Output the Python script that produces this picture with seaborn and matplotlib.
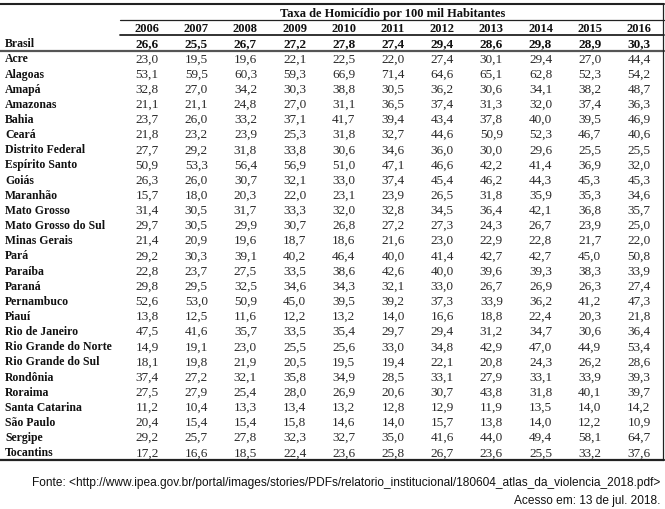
import numpy as np
import pandas as pd
import matplotlib
matplotlib.use("Agg")
import matplotlib.pyplot as plt
import matplotlib.transforms as mtransforms
from matplotlib.colors import ListedColormap
from matplotlib.lines import Line2D
import seaborn as sns

years = [2006, 2007, 2008, 2009, 2010, 2011, 2012, 2013, 2014, 2015, 2016]

states = ["Brasil", "Acre", "Alagoas", "Amapá", "Amazonas", "Bahia", "Ceará",
          "Distrito Federal", "Espírito Santo", "Goiás", "Maranhão", "Mato Grosso",
          "Mato Grosso do Sul", "Minas Gerais", "Pará", "Paraíba", "Paraná",
          "Pernambuco", "Piauí", "Rio de Janeiro", "Rio Grande do Norte",
          "Rio Grande do Sul", "Rondônia", "Roraima", "Santa Catarina",
          "São Paulo", "Sergipe", "Tocantins"]

# one list per year, same order as states (Brasil first)
r2006 = [26.6, 23.0, 53.1, 32.8, 21.1, 23.7, 21.8, 27.7, 50.9, 26.3, 15.7, 31.4, 29.7, 21.4,
         29.2, 22.8, 29.8, 52.6, 13.8, 47.5, 14.9, 18.1, 37.4, 27.5, 11.2, 20.4, 29.2, 17.2]
r2007 = [25.5, 19.5, 59.5, 27.0, 21.1, 26.0, 23.2, 29.2, 53.3, 26.0, 18.0, 30.5, 30.5, 20.9,
         30.3, 23.7, 29.5, 53.0, 12.5, 41.6, 19.1, 19.8, 27.2, 27.9, 10.4, 15.4, 25.7, 16.6]
r2008 = [26.7, 19.6, 60.3, 34.2, 24.8, 33.2, 23.9, 31.8, 56.4, 30.7, 20.3, 31.7, 29.9, 19.6,
         39.1, 27.5, 32.5, 50.9, 11.6, 35.7, 23.0, 21.9, 32.1, 25.4, 13.3, 15.4, 27.8, 18.5]
r2009 = [27.2, 22.1, 59.3, 30.3, 27.0, 37.1, 25.3, 33.8, 56.9, 32.1, 22.0, 33.3, 30.7, 18.7,
         40.2, 33.5, 34.6, 45.0, 12.2, 33.5, 25.5, 20.5, 35.8, 28.0, 13.4, 15.8, 32.3, 22.4]
r2010 = [27.8, 22.5, 66.9, 38.8, 31.1, 41.7, 31.8, 30.6, 51.0, 33.0, 23.1, 32.0, 26.8, 18.6,
         46.4, 38.6, 34.3, 39.5, 13.2, 35.4, 25.6, 19.5, 34.9, 26.9, 13.2, 14.6, 32.7, 23.6]
r2011 = [27.4, 22.0, 71.4, 30.5, 36.5, 39.4, 32.7, 34.6, 47.1, 37.4, 23.9, 32.8, 27.2, 21.6,
         40.0, 42.6, 32.1, 39.2, 14.0, 29.7, 33.0, 19.4, 28.5, 20.6, 12.8, 14.0, 35.0, 25.8]
r2012 = [29.4, 27.4, 64.6, 36.2, 37.4, 43.4, 44.6, 36.0, 46.6, 45.4, 26.5, 34.5, 27.3, 23.0,
         41.4, 40.0, 33.0, 37.3, 16.6, 29.4, 34.8, 22.1, 33.1, 30.7, 12.9, 15.7, 41.6, 26.7]
r2013 = [28.6, 30.1, 65.1, 30.6, 31.3, 37.8, 50.9, 30.0, 42.2, 46.2, 31.8, 36.4, 24.3, 22.9,
         42.7, 39.6, 26.7, 33.9, 18.8, 31.2, 42.9, 20.8, 27.9, 43.8, 11.9, 13.8, 44.0, 23.6]
r2014 = [29.8, 29.4, 62.8, 34.1, 32.0, 40.0, 52.3, 29.6, 41.4, 44.3, 35.9, 42.1, 26.7, 22.8,
         42.7, 39.3, 26.9, 36.2, 22.4, 34.7, 47.0, 24.3, 33.1, 31.8, 13.5, 14.0, 49.4, 25.5]
r2015 = [28.9, 27.0, 52.3, 38.2, 37.4, 39.5, 46.7, 25.5, 36.9, 45.3, 35.3, 36.8, 23.9, 21.7,
         45.0, 38.3, 26.3, 41.2, 20.3, 30.6, 44.9, 26.2, 33.9, 40.1, 14.0, 12.2, 58.1, 33.2]
r2016 = [30.3, 44.4, 54.2, 48.7, 36.3, 46.9, 40.6, 25.5, 32.0, 45.3, 34.6, 35.7, 25.0, 22.0,
         50.8, 33.9, 27.4, 47.3, 21.8, 36.4, 53.4, 28.6, 39.3, 39.7, 14.2, 10.9, 64.7, 37.6]

title = "Taxa de Homicídio por 100 mil Habitantes"
source = "Fonte: <http://www.ipea.gov.br/portal/images/stories/PDFs/relatorio_institucional/180604_atlas_da_violencia_2018.pdf>"
access = "Acesso em: 13 de jul. 2018."

df = pd.DataFrame({y: r for y, r in zip(years, [r2006, r2007, r2008, r2009, r2010, r2011,
                                                 r2012, r2013, r2014, r2015, r2016])},
                  index=states)
labels = df.map(lambda v: f"{v:.1f}".replace(".", ","))

sns.set_style("white")
plt.rcParams["font.family"] = ["Liberation Serif", "DejaVu Serif"]

W, H = 665, 509
fig = plt.figure(figsize=(W / 100, H / 100), dpi=100)


def fx(px):
    return px / W


def fy(py):
    return 1 - py / H


top_px, bot_px = 35.2, 459.4
left_px, right_px = 122.5, 663.5
ax = fig.add_axes([fx(left_px), fy(bot_px), fx(right_px - left_px), (bot_px - top_px) / H])

sns.heatmap(df, ax=ax, cmap=ListedColormap(["white"]), cbar=False, annot=labels, fmt="",
            xticklabels=False, yticklabels=False,
            annot_kws={"fontsize": 9.5, "color": "#2a2a2a", "va": "center_baseline"})
ax.tick_params(left=False, bottom=False)

ncol = len(years)
for k, t in enumerate(ax.texts):
    if k < ncol:
        t.set_fontweight("bold")
        t.set_color("#111111")

# row labels
trans_rows = mtransforms.blended_transform_factory(fig.transFigure, ax.transData)
for i, name in enumerate(states):
    ax.text(fx(5), i + 0.5, name, transform=trans_rows, ha="left", va="center_baseline",
            fontsize=8.5, fontweight="bold", color="#111111")

# year header and title
trans_cols = mtransforms.blended_transform_factory(ax.transData, fig.transFigure)
for j, y in enumerate(years):
    ax.text(j + 0.5, fy(27), str(y), transform=trans_cols, ha="center", va="center_baseline",
            fontsize=9, fontweight="bold", color="#111111")
fig.text(fx((left_px + right_px) / 2), fy(12), title, ha="center", va="center_baseline",
         fontsize=9, fontweight="bold", color="#111111")

# rules
def hline(y, x0, x1, lw, color="#222222"):
    fig.add_artist(Line2D([fx(x0), fx(x1)], [fy(y), fy(y)], lw=lw, color=color,
                          transform=fig.transFigure))


hline(4, 0, 663.5, 1.5)
hline(19.5, 120, 663.5, 0.9)
hline(34.5, 120, 663.5, 1.3)
hline(50.5, 0, 663.5, 1.6, "#555555")
hline(459.5, 0, 663.5, 1.6)
fig.add_artist(Line2D([fx(663), fx(663)], [fy(4), fy(459.5)], lw=0.9, color="#222222",
                      transform=fig.transFigure))

fig.text(fx(660), fy(483), source, ha="right", va="center", fontsize=8.6,
         family=["Liberation Sans", "DejaVu Sans"], color="#111111")
fig.text(fx(660), fy(501), access, ha="right", va="center", fontsize=8.6,
         family=["Liberation Sans", "DejaVu Sans"], color="#111111")

fig.savefig("out.png", dpi=100)
